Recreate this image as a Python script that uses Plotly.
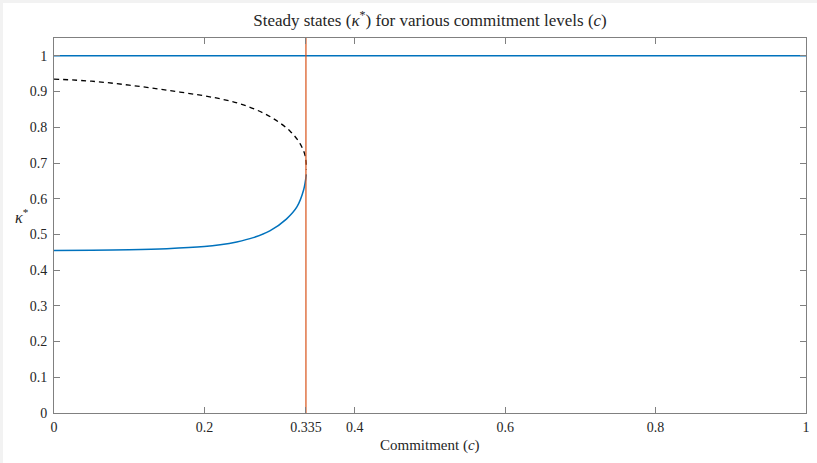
import plotly.graph_objects as go

# Data
c_upper = [0, 0.05, 0.1, 0.15, 0.2, 0.225, 0.247, 0.27, 0.292, 0.314, 0.327, 0.334, 0.3355]
k_upper = [0.935, 0.929, 0.918, 0.904, 0.888, 0.878, 0.866, 0.848, 0.824, 0.789, 0.755, 0.720, 0.682]
c_lower = [0, 0.05, 0.1, 0.15, 0.2, 0.221, 0.243, 0.265, 0.287, 0.309, 0.323, 0.332, 0.3355]
k_lower = [0.455, 0.4555, 0.457, 0.460, 0.466, 0.471, 0.479, 0.491, 0.510, 0.543, 0.577, 0.625, 0.668]
c_full = [0, 1]
k_one = [1, 1]
c_crit = 0.335
x_ticks = [0, 0.2, 0.335, 0.4, 0.6, 0.8, 1]
x_tick_text = ["0", "0.2", "0.335", "0.4", "0.6", "0.8", "1"]
y_ticks = [0, 0.1, 0.2, 0.3, 0.4, 0.5, 0.6, 0.7, 0.8, 0.9, 1]
y_tick_text = ["0", "0.1", "0.2", "0.3", "0.4", "0.5", "0.6", "0.7", "0.8", "0.9", "1"]

BLUE = "#0072BD"
ORANGE = "#D95319"
FONT = "Liberation Serif"

fig = go.Figure()
fig.add_trace(go.Scatter(x=c_full, y=k_one, mode="lines",
                         line=dict(color=BLUE, width=1.5), showlegend=False))
fig.add_trace(go.Scatter(x=c_upper, y=k_upper, mode="lines",
                         line=dict(color="black", width=1.3, dash="5px,4px",
                                   shape="spline", smoothing=1.0),
                         showlegend=False))
fig.add_trace(go.Scatter(x=c_lower, y=k_lower, mode="lines",
                         line=dict(color=BLUE, width=1.5, shape="spline", smoothing=1.0),
                         showlegend=False))
fig.add_trace(go.Scatter(x=[c_crit, c_crit], y=[0, 1.05], mode="lines", opacity=0.8,
                         line=dict(color=ORANGE, width=1.5), showlegend=False))

axis_common = dict(showline=True, linecolor="#808080", linewidth=1, mirror="ticks",
                   ticks="inside", ticklen=6, tickcolor="#808080", tickwidth=1,
                   showgrid=False, zeroline=False, automargin=False,
                   tickfont=dict(family=FONT, size=14, color="#262626"))

fig.update_xaxes(range=[0, 1], tickvals=x_ticks, ticktext=x_tick_text,
                 ticklabelstandoff=1, **axis_common)
fig.update_yaxes(range=[0, 1.05], tickvals=y_ticks, ticktext=y_tick_text,
                 ticklabelstandoff=3, **axis_common)

fig.update_layout(
    width=817, height=463,
    margin=dict(l=54, r=11, t=38, b=50),
    paper_bgcolor="#f2f2f2", plot_bgcolor="white",
    title=dict(text="Steady states (<i>κ</i><sup>*</sup>) for various commitment levels (<i>c</i>)",
               x=(54 + 806) / 2 / 817, xanchor="center", y=1 - 20 / 463, yanchor="middle",
               font=dict(family=FONT, size=17, color="#262626")),
    shapes=[dict(type="rect", xref="paper", yref="paper", layer="below",
                 x0=(3 - 54) / 752, x1=(817 - 54) / 752,
                 y0=-(463 - 413) / 375, y1=(413 - 3) / 375,
                 fillcolor="white", line=dict(width=0))],
    annotations=[
        dict(text="Commitment (<i>c</i>)", xref="paper", yref="paper",
             x=0.5, y=-(445 - 413) / 375, xanchor="center", yanchor="middle",
             showarrow=False, font=dict(family=FONT, size=15, color="#262626")),
        dict(text="<i>κ</i><sup>*</sup>", xref="paper", yref="paper",
             x=(22 - 54) / 752, y=(413 - 216) / 375, xanchor="center", yanchor="middle",
             showarrow=False, font=dict(family=FONT, size=16, color="#262626")),
    ],
)

fig.write_html("out.html", config={"displayModeBar": False},
               post_script="document.body.style.margin='0';")
